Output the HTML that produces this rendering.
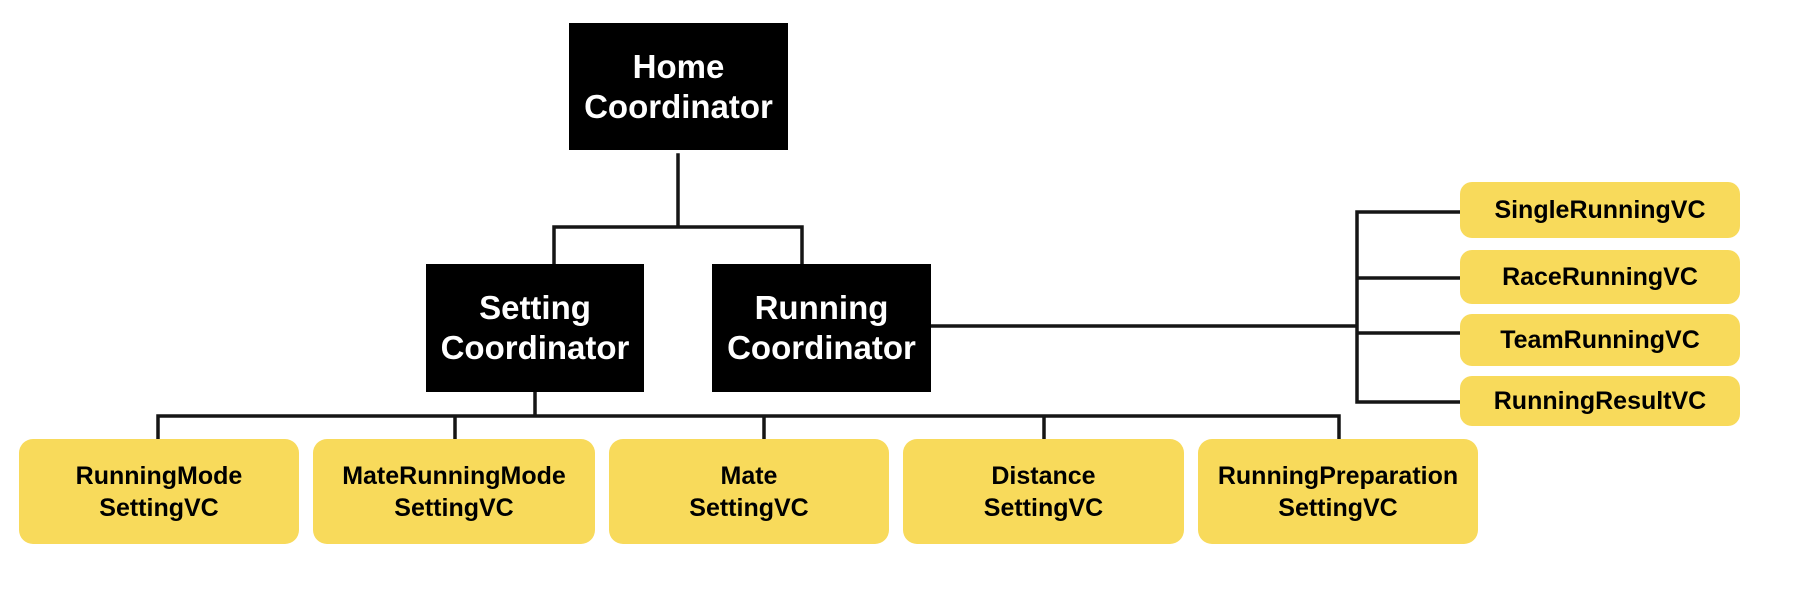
<!DOCTYPE html>
<html><head><meta charset="utf-8"><style>
html,body{margin:0;padding:0;background:#fff;}
body{width:1816px;height:616px;position:relative;overflow:hidden;font-family:"Liberation Sans",Arial,sans-serif;font-weight:bold;}
.b{position:absolute;background:#000;color:#fff;display:flex;align-items:center;justify-content:center;text-align:center;font-size:33px;line-height:40px;}
.y{position:absolute;background:#f8da5b;color:#000;border-radius:14px;display:flex;align-items:center;justify-content:center;text-align:center;font-size:25px;line-height:32px;}
svg{position:absolute;left:0;top:0;}
</style></head><body>
<svg width="1816" height="616"><g stroke="#151515" stroke-width="3.5" fill="none" stroke-linecap="square">
<path d="M678 155V227M554 264V227H802V264"/>
<path d="M535 392V416M158 439V416H1339V439M455 416V439M764 416V439M1044 416V439"/>
<path d="M931 326H1357M1357 212V402M1357 212H1460M1357 278H1460M1357 333H1460M1357 402H1460"/>
</g></svg>
<div class="b" style="left:569px;top:23px;width:219px;height:127px;">Home<br>Coordinator</div>
<div class="b" style="left:426px;top:264px;width:218px;height:128px;">Setting<br>Coordinator</div>
<div class="b" style="left:712px;top:264px;width:219px;height:128px;">Running<br>Coordinator</div>
<div class="y" style="left:19px;top:439px;width:280px;height:105px;">RunningMode<br>SettingVC</div>
<div class="y" style="left:313px;top:439px;width:282px;height:105px;">MateRunningMode<br>SettingVC</div>
<div class="y" style="left:609px;top:439px;width:280px;height:105px;">Mate<br>SettingVC</div>
<div class="y" style="left:903px;top:439px;width:281px;height:105px;">Distance<br>SettingVC</div>
<div class="y" style="left:1198px;top:439px;width:280px;height:105px;">RunningPreparation<br>SettingVC</div>
<div class="y" style="left:1460px;top:182px;width:280px;height:56px;border-radius:12px;">SingleRunningVC</div>
<div class="y" style="left:1460px;top:250px;width:280px;height:54px;border-radius:12px;">RaceRunningVC</div>
<div class="y" style="left:1460px;top:314px;width:280px;height:52px;border-radius:12px;">TeamRunningVC</div>
<div class="y" style="left:1460px;top:376px;width:280px;height:50px;border-radius:12px;">RunningResultVC</div>
</body></html>
